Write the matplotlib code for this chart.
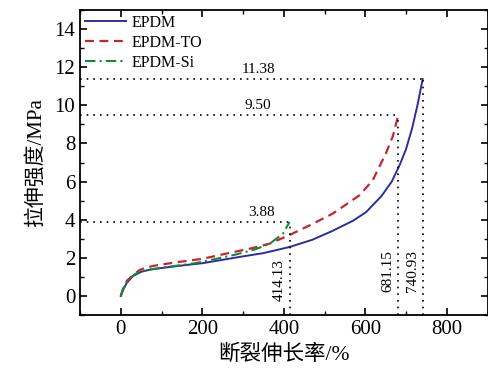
import matplotlib
matplotlib.use("Agg")
import matplotlib.pyplot as plt
from matplotlib.ticker import MultipleLocator

plt.rcParams['font.family'] = ['Liberation Serif', 'Noto Sans CJK SC']
plt.rcParams['axes.unicode_minus'] = False

# data
epdm_x = [0, 5, 15, 30, 50, 75, 100, 150, 200, 250, 300, 350, 414, 470, 520,
          570, 602, 640, 665, 685, 700, 715, 728, 740.93]
epdm_y = [0, 0.3, 0.7, 1.05, 1.27, 1.4, 1.47, 1.6, 1.72, 1.9, 2.08, 2.25, 2.57,
          2.95, 3.42, 3.95, 4.4, 5.25, 6.0, 6.9, 7.7, 8.8, 10.0, 11.38]

to_x = [0, 5, 15, 28, 45, 60, 80, 100, 140, 200, 260, 320, 366, 414, 463,
        520, 585, 618, 651, 668, 681.15]
to_y = [0, 0.35, 0.8, 1.05, 1.35, 1.48, 1.58, 1.65, 1.78, 1.95, 2.23, 2.5,
        2.75, 3.2, 3.7, 4.32, 5.27, 6.06, 7.5, 8.4, 9.50]

si_x = [0, 5, 12, 20, 35, 50, 73, 100, 140, 179, 230, 285, 330, 366, 398, 414.13]
si_y = [0, 0.3, 0.6, 0.84, 1.15, 1.3, 1.39, 1.48, 1.6, 1.71, 1.93, 2.19,
        2.45, 2.75, 3.27, 3.88]

# break points (elongation, strength)
breaks = [(740.93, 11.38), (681.15, 9.50), (414.13, 3.88)]

fig = plt.figure(figsize=(4.88, 3.72), dpi=100)
ax = fig.add_axes([0.164, 0.153, 0.835, 0.820])

ax.plot(epdm_x, epdm_y, color="#2a2f9c", lw=1.4, label="EPDM")
ax.plot(to_x, to_y, color="#c4262e", lw=1.6, ls=(0, (4, 2.5)), label="EPDM-TO")
ax.plot(si_x, si_y, color="#16873a", lw=1.5, ls=(0, (5, 2, 1, 2)), label="EPDM-Si")

ax.set_xlim(-100, 900)
ax.set_ylim(-1, 15)

for bx, by in breaks:
    ax.plot([-100, bx], [by, by], color="black", ls=(0, (1, 3)), lw=1.2)
    ax.plot([bx, bx], [-1, by], color="black", ls=(0, (1, 3)), lw=1.2)

ax.text(337, 11.55, "11.38", fontsize=11, ha="center", va="bottom")
ax.text(337, 9.67, "9.50", fontsize=11, ha="center", va="bottom")
ax.text(346, 4.05, "3.88", fontsize=11, ha="center", va="bottom")
ax.text(405, 0.85, "414.13", fontsize=11, rotation=90, ha="right", va="center")
ax.text(671, 1.3, "681.15", fontsize=11, rotation=90, ha="right", va="center")
ax.text(731, 1.3, "740.93", fontsize=11, rotation=90, ha="right", va="center")

ax.xaxis.set_major_locator(MultipleLocator(200))
ax.xaxis.set_minor_locator(MultipleLocator(100))
ax.yaxis.set_major_locator(MultipleLocator(2))
ax.yaxis.set_minor_locator(MultipleLocator(1))
ax.tick_params(which="both", direction="in", top=True, right=True, labelsize=15)
ax.tick_params(which="major", length=5, width=1.2)
ax.tick_params(which="minor", length=3, width=1.0)
for s in ax.spines.values():
    s.set_linewidth(1.3)

ax.set_xlabel("断裂伸长率/%", fontsize=15.5, labelpad=4)
ax.set_ylabel("拉伸强度/MPa", fontsize=15, labelpad=6)

ax.legend(loc="upper left", frameon=False, fontsize=11.5, handlelength=2.6,
          handletextpad=0.3, labelspacing=0.25, borderaxespad=0.1,
          borderpad=0.2)

fig.savefig("out.png", dpi=100)
